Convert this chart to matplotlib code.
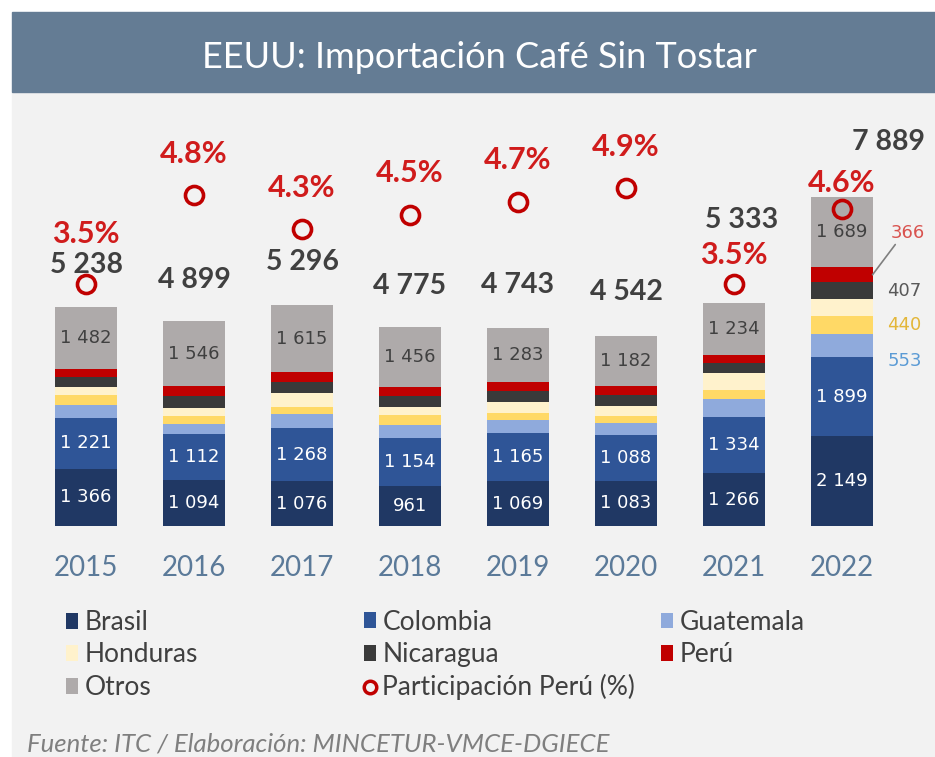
import numpy as np
import matplotlib
matplotlib.use("Agg")
import matplotlib.pyplot as plt
from matplotlib.patches import Rectangle, Patch
from matplotlib.lines import Line2D

# datos (fuente ITC)
anios = ["2015", "2016", "2017", "2018", "2019", "2020", "2021", "2022"]
brasil = [1366, 1094, 1076, 961, 1069, 1083, 1266, 2149]
colombia = [1221, 1112, 1268, 1154, 1165, 1088, 1334, 1899]
guatemala = [315, 240, 330, 310, 310, 292, 440, 553]
sin_leyenda = [225, 200, 180, 225, 170, 162, 226, 440]   # segmento amarillo, no aparece en la leyenda
honduras = [200, 175, 320, 190, 250, 256, 404, 386]
nicaragua = [246, 297, 279, 264, 273, 256, 242, 407]
peru = [183, 235, 228, 215, 223, 223, 187, 366]
otros = [1482, 1546, 1615, 1456, 1283, 1182, 1234, 1689]
totales = [5238, 4899, 5296, 4775, 4743, 4542, 5333, 7889]
part_peru = [3.5, 4.8, 4.3, 4.5, 4.7, 4.9, 3.5, 4.6]

# desplazamientos de etiquetas (px)
off_total = [42, 41, 43, 41, 43, 44, 83, 55]
dx_total = [0, 0, 0, 0, 0, 0, 8, 46]
off_pct = [50, 41, 41, 42, 42, 41, 29, 26]

plt.rcParams["font.family"] = ["Lato", "DejaVu Sans"]

W, H = 935, 757
PX = 72 / 100  # px -> pt

fig = plt.figure(figsize=(W / 100, H / 100), dpi=100)
fig.patch.set_facecolor("white")
fig.patches.append(Rectangle((12 / W, 0), 1, (H - 92) / H, transform=fig.transFigure,
                             color="#F2F2F2", zorder=-2))
fig.patches.append(Rectangle((12 / W, (H - 92) / H), 1, 80 / H, transform=fig.transFigure,
                             color="#647C94", zorder=-2))
fig.text(479 / W, (H - 68) / H, "EEUU: Importación Café Sin Tostar", color="white",
         fontsize=26, ha="center", va="baseline")

ax = fig.add_axes([32 / W, 231 / H, 864 / W, 396 / H])
ax.set_facecolor("none")
x = np.arange(len(anios))
ancho = 0.565

series = [
    (brasil, "Brasil", "#203864"),
    (colombia, "Colombia", "#2F5597"),
    (guatemala, "Guatemala", "#8FAADC"),
    (sin_leyenda, "_amarillo", "#FFD966"),
    (honduras, "Honduras", "#FFF2CC"),
    (nicaragua, "Nicaragua", "#3A3A3A"),
    (peru, "Perú", "#C00000"),
    (otros, "Otros", "#AEAAAA"),
]

base = np.zeros(len(anios))
barras = {}
bases = {}
for vals, nombre, color in series:
    bases[nombre] = base.copy()
    barras[nombre] = ax.bar(x, vals, ancho, bottom=base, color=color, zorder=2)
    base = base + np.array(vals)

def fmt(v):
    return f"{v:,}".replace(",", " ")

ax.bar_label(barras["Brasil"], labels=[fmt(v) for v in brasil], label_type="center",
             color="white", fontsize=13, family="DejaVu Sans")
ax.bar_label(barras["Colombia"], labels=[fmt(v) for v in colombia], label_type="center",
             color="white", fontsize=13, family="DejaVu Sans")
ax.bar_label(barras["Otros"], labels=[fmt(v) for v in otros], label_type="center",
             color="#404040", fontsize=13, family="DejaVu Sans")

# totales sobre cada barra
for i, t in enumerate(totales):
    ax.annotate(fmt(t), (x[i], base[i]), xytext=(dx_total[i] * PX, off_total[i] * PX),
                textcoords="offset points", ha="center", va="center",
                fontsize=20.5, fontweight="bold", color="#404040")

# etiquetas laterales 2022
k = len(anios) - 1
der = x[k] + ancho / 2
lado = [
    (guatemala, "Guatemala", "#5B9BD5", -16),
    (sin_leyenda, "_amarillo", "#E3B638", 0),
    (nicaragua, "Nicaragua", "#595959", 0),
]
for vals, nombre, color, dy in lado:
    yc = bases[nombre][k] + vals[k] / 2
    ax.annotate(str(vals[k]), (der, yc), xytext=(15 * PX, dy * PX), textcoords="offset points",
                ha="left", va="center", fontsize=13, color=color, family="DejaVu Sans")
yc = bases["Perú"][k] + peru[k] / 2
ax.annotate(str(peru[k]), (der, yc), xytext=(18 * PX, 42 * PX), textcoords="offset points",
            ha="left", va="center", fontsize=13, color="#D9534F", family="DejaVu Sans",
            arrowprops=dict(arrowstyle="-", color="#7F7F7F", lw=1.2, shrinkA=0, shrinkB=0,
                            relpos=(0.2, 0)))

ax.set_xlim(-0.5, len(anios) - 0.5)
ax.set_ylim(0, 9484)
ax.set_xticks(x, anios)
ax.set_yticks([])
ax.tick_params(length=0, pad=21, labelsize=20, labelcolor="#5B7A99")
for s in ax.spines.values():
    s.set_visible(False)

# participacion Peru (eje secundario)
ax2 = ax.twinx()
ax2.set_ylim(0, 5.739)
ax2.plot(x, part_peru, linestyle="none", marker="o", ms=13, mfc="none", mec="#C00000",
         mew=2.6, zorder=3)
for i, p in enumerate(part_peru):
    ax2.annotate(f"{p:.1f}%", (x[i], p), xytext=(0, off_pct[i] * PX), textcoords="offset points",
                 ha="center", va="center", fontsize=22, fontweight="bold", color="#D01C1C")
ax2.set_yticks([])
for s in ax2.spines.values():
    s.set_visible(False)

# leyenda en tres columnas
def h(nombre):
    return Patch(facecolor=barras[nombre].patches[0].get_facecolor(), edgecolor="none")

circulo = Line2D([], [], linestyle="none", marker="o", ms=9, mfc="none", mec="#C00000", mew=2.5)
columnas = [
    ([h("Brasil"), h("Honduras"), h("Otros")], ["Brasil", "Honduras", "Otros"], 66, 655),
    ([h("Colombia"), h("Nicaragua"), circulo], ["Colombia", "Nicaragua", "Participación Perú (%)"], 364, 655),
    ([h("Guatemala"), h("Perú")], ["Guatemala", "Perú"], 661, 638.5),
]
for hs, ls, px, py in columnas:
    fig.legend(hs, ls, loc="center left", bbox_to_anchor=(px / W, (H - py) / H),
               frameon=False, fontsize=19, handlelength=0.45, handleheight=0.55,
               handletextpad=0.25, labelspacing=0.28, borderpad=0, borderaxespad=0,
               labelcolor="#404040")

fig.text(27 / W, (H - 744) / H, "Fuente: ITC / Elaboración: MINCETUR-VMCE-DGIECE",
         style="italic", color="#7F7F7F", fontsize=18.5, ha="left", va="center")

fig.savefig("out.png", dpi=100)
